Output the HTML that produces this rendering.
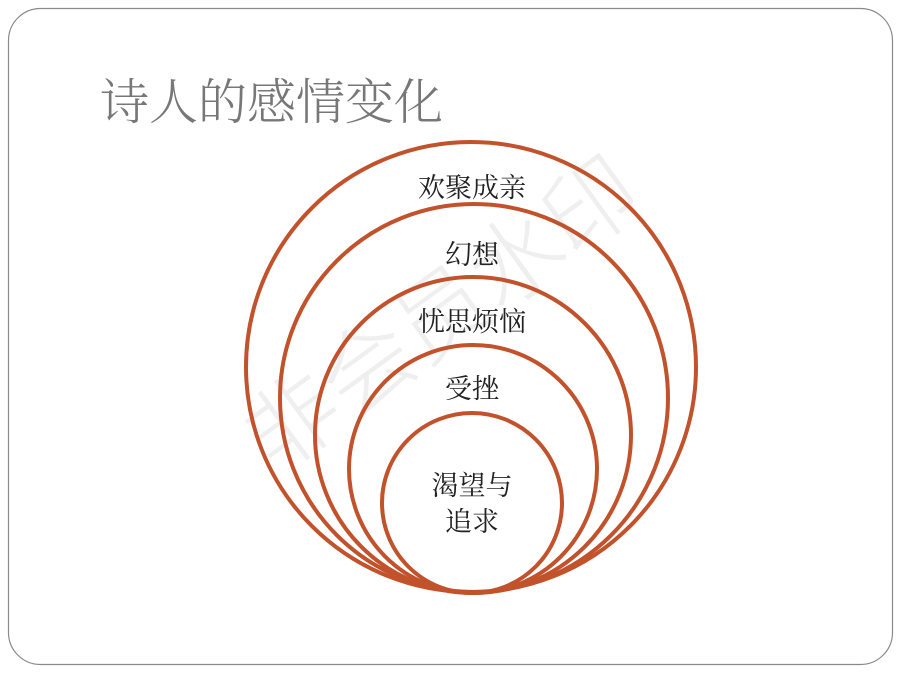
<!DOCTYPE html>
<html><head><meta charset="utf-8"><style>
body{margin:0;background:#fff;width:900px;height:675px;overflow:hidden;font-family:"Liberation Serif","Noto Serif CJK SC",serif}
</style></head><body>
<svg width="900" height="675" xmlns="http://www.w3.org/2000/svg" style="position:absolute;left:0;top:0">
<rect x="8.5" y="8.5" width="884" height="656" rx="32" fill="#fff" stroke="#8a8a8a" stroke-width="1.2"/>
<text x="100" y="119" font-size="49" fill="#777" font-family="Liberation Serif,Noto Serif CJK SC,serif" font-weight="300">诗人的感情变化</text>
<text x="0" y="0" font-size="92" fill="#efefef" transform="translate(275,475) rotate(-36)" font-family="Noto Sans CJK SC,sans-serif" font-weight="300">非会员水印</text>
<g fill="none" stroke="#c1522b" stroke-width="4">
<circle cx="471" cy="367" r="225"/>
<circle cx="474" cy="398" r="194"/>
<circle cx="473" cy="435" r="158"/>
<circle cx="473" cy="469" r="124"/>
<circle cx="472" cy="503" r="90"/>
</g>
<g font-size="27" fill="#222" text-anchor="middle" font-family="Liberation Serif,Noto Serif CJK SC,serif">
<text x="472" y="197">欢聚成亲</text>
<text x="472" y="264">幻想</text>
<text x="472" y="331">忧思烦恼</text>
<text x="472" y="398">受挫</text>
<text x="472" y="495">渴望与</text>
<text x="472" y="531">追求</text>
</g>
</svg>
</body></html>
